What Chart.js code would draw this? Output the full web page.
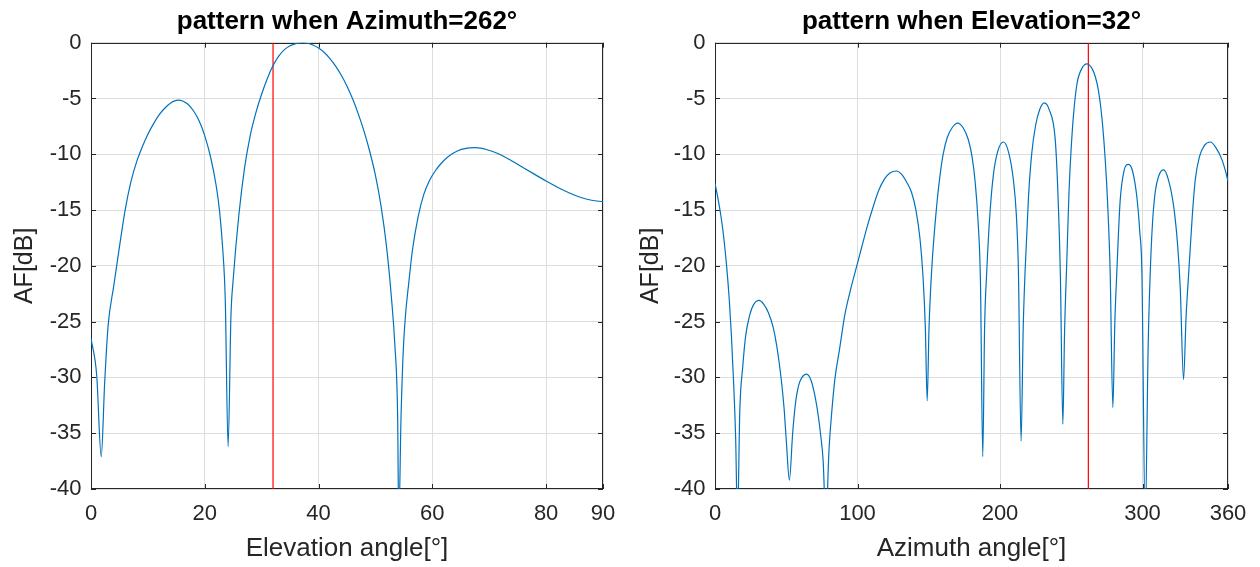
<!DOCTYPE html>
<html>
<head>
<meta charset="utf-8">
<script src="https://cdn.jsdelivr.net/npm/chart.js@4.4.1/dist/chart.umd.min.js"></script>
<style>
  html, body { margin: 0; padding: 0; background: #fff; }
  #wrap { position: relative; width: 1260px; height: 567px; }
  canvas { position: absolute; top: 0; }
</style>
</head>
<body>
<div id="wrap">
  <canvas id="elevChart" width="630" height="567" style="left:0"></canvas>
  <canvas id="azChart" width="630" height="567" style="left:630px"></canvas>
</div>
<script>
///// ARRAY FACTOR CUTS /////

Chart.defaults.font.family = "'Liberation Sans', Arial, Helvetica, sans-serif";
Chart.defaults.color = '#262626';

// Elevation cut (azimuth = 262)
const elevAngles = [0, 1, 1.8, 2.4, 3, 4, 5, 6, 7, 8, 9, 10, 11, 12, 13, 14, 15, 15.4, 16, 17, 18, 19, 20, 21, 22,
    22.6, 23.2, 23.6, 24.1, 24.6, 25, 26, 27, 28, 29, 30, 31, 32, 33, 34, 35, 36, 37, 37.3, 38, 39, 40,
    41, 42, 43, 44, 45, 46, 47, 48, 49, 50, 51, 52, 52.8, 53.4, 53.9, 54.1, 54.5, 54.9, 55.3, 55.8,
    56.5, 57.5, 58.5, 59.5, 60.5, 61.5, 62.5, 63.5, 64.5, 65.5, 66.5, 67.5, 68.5, 69.5, 70.5, 72,
    74, 76, 78, 80, 82, 84, 86, 88, 90];
const elevAF = [-26.5, -29.8, -37.1, -30.5, -25.4, -21.8, -18.3, -15.0, -12.5, -10.7, -9.35, -8.2, -7.25, -6.45,
    -5.85, -5.4, -5.17, -5.15, -5.2, -5.5, -6.1, -7.0, -8.35, -10.2, -12.8,
    -15.1, -18.8, -23, -36.2, -24.5, -21.2, -15.4, -11.2, -8.3, -6.25, -4.6, -3.2, -2.05, -1.2, -0.62, -0.27, -0.08, -0.01, 0, -0.05, -0.2, -0.48,
    -0.88, -1.42, -2.1, -2.92, -3.9, -5.05, -6.4, -7.95, -9.75, -11.9, -14.7, -18.5, -22.8, -27, -33.5, -43, -33.5, -27.5, -24.3, -21.8,
    -18.6, -15.6, -13.6, -12.35, -11.5, -10.85, -10.33, -9.95, -9.69, -9.52, -9.43, -9.4, -9.45, -9.57, -9.73, -10.05,
    -10.6, -11.2, -11.8, -12.4, -12.95, -13.45, -13.85, -14.12, -14.25];

// Azimuth cut (elevation = 32)
const azAngles = [0, 2, 4, 6, 8, 10, 11.5, 13, 14.5, 15.8, 17.4, 19.5, 21.5, 24, 27, 30.9, 34, 37.5,
    40.8, 43.5, 46.6, 48.5, 50.2, 52.2, 54.5, 56.5, 58.5, 61, 64.2, 67.5, 71.2, 74, 75.9, 77.8, 80,
    82, 84.1, 87.6, 91.1, 95, 99.3, 103, 107, 111, 115, 119, 123, 127.4, 131, 134.5, 137.9, 141,
    143.8, 146, 147.6, 148.9, 150.2, 152, 155.5, 158, 160.1, 163, 166.5, 170.3, 174, 177.8, 180.5,
    182.5, 184.5, 186.3, 187.9, 189.2, 190.7, 193, 195.4, 198.5, 202.4, 206, 209.4, 211.5, 212.9,
    214.8, 216.3, 217.6, 220, 222.3, 225, 228, 231, 234.5, 238.7, 240.5, 242.4, 244.1, 245.3, 246.9,
    248.4, 249.8, 251.5, 254, 257.5, 261, 264.5, 267, 269.1, 271.5, 273.8, 275.5, 277.3, 279.2, 280.6,
    282, 284.3, 287, 290.2, 293, 296.1, 298, 299.6, 301.9, 304, 305.4, 307, 308.9, 311.5, 314.8, 318,
    321.8, 324.5, 326.5, 328.8, 330.6, 332.4, 335, 337.1, 340, 343.5, 347.6, 351.5, 355.8, 358, 360];
const azAF = [-12.6, -13.9, -15.4, -17.3, -19.8, -23.0, -26.2, -30.3, -35.5, -43, -33, -29, -26.3, -24.6, -23.5, -23.1, -23.4, -24.2,
    -25.5, -27.3, -30.3, -32.8, -36, -39.2, -35, -32.3, -30.8, -30.0, -29.7, -30.3, -32.4, -35, -37.5, -43, -36.5,
    -33, -30.2, -27.3, -24.4, -22.2, -20.1, -18.3, -16.4, -14.7, -13.2, -12.2, -11.65, -11.5, -11.8, -12.5, -13.4, -15,
    -17.5, -21, -25.5, -32.1, -25.5, -20.5, -14.7, -11.8, -10.0, -8.5, -7.6, -7.2, -7.6, -8.7, -10.3,
    -12.4, -15.8, -21.5, -37.1, -25.5, -20.5, -15.2, -11.8, -9.7, -8.9, -9.8, -12.3, -15.5, -20.3,
    -35.7, -25.5, -20.5, -13.8, -9.9, -7.4, -5.95, -5.4, -6.0, -8.6, -13, -21, -34.2, -26, -19.5,
    -13.5, -9.8, -6.6, -3.7, -2.3, -1.9, -2.3, -3.1, -4.3, -6.7, -10.4, -14.3, -20.5, -32.7, -25,
    -20.5, -14.2, -11.5, -10.9, -11.5, -13.9, -16.8, -20.7, -43, -27, -20.7, -16.2, -13.4, -11.9, -11.4, -12.2,
    -14.6, -17.9, -22, -30.2, -24.5, -20.7, -15.4, -12.2, -10.2, -9.2, -8.9, -9.4, -10.5, -11.4, -12.4];

// steering markers (red lines) and ticks
const elevCut = 32;
const azCut = 262;
const cutSpan = [-40, 0];
const elevTicks = [0, 20, 40, 60, 80, 90];
const azTicks = [0, 100, 200, 300, 360];
const afTicks = [-40, -35, -30, -25, -20, -15, -10, -5, 0];

const toPoints = (xs, ys) => xs.map((v, i) => ({ x: v, y: ys[i] }));

// box round the axes + inward tick marks, like matlab
const matlabBox = {
    id: 'matlabBox',
    beforeDatasetsDraw(chart) {
        const { ctx, chartArea: a, scales: { x, y } } = chart;
        ctx.save();
        ctx.strokeStyle = '#262626';
        ctx.lineWidth = 1;
        ctx.beginPath();
        x.ticks.forEach(t => {
            const px = Math.round(x.getPixelForValue(t.value)) + 0.5;
            ctx.moveTo(px, a.bottom); ctx.lineTo(px, a.bottom - 5);
            ctx.moveTo(px, a.top); ctx.lineTo(px, a.top + 5);
        });
        y.ticks.forEach(t => {
            const py = Math.round(y.getPixelForValue(t.value)) + 0.5;
            ctx.moveTo(a.left, py); ctx.lineTo(a.left + 5, py);
            ctx.moveTo(a.right, py); ctx.lineTo(a.right - 5, py);
        });
        ctx.stroke();
        ctx.strokeRect(Math.round(a.left) + 0.5, Math.round(a.top) + 0.5,
            Math.round(a.width) - 1, Math.round(a.height) - 1);
        ctx.restore();
    }
};

function patternChart(id, cfg) {
    return new Chart(document.getElementById(id), {
        type: 'line',
        data: {
            datasets: [{
                data: toPoints(cfg.angles, cfg.af),
                borderColor: '#0072BD',
                borderWidth: 1.2,
                pointRadius: 0,
                cubicInterpolationMode: 'monotone'
            }, {
                data: toPoints([cfg.cut, cfg.cut], cutSpan),
                borderColor: '#FF0000',
                borderWidth: 1.2,
                pointRadius: 0
            }]
        },
        options: {
            responsive: false,
            animation: false,
            devicePixelRatio: 1,
            layout: { padding: { top: 0, left: 0, right: cfg.rightPad, bottom: 0 } },
            plugins: {
                legend: { display: false },
                tooltip: { enabled: false },
                title: {
                    display: true,
                    text: cfg.title,
                    fullSize: false,
                    color: '#000',
                    font: { size: 26, weight: 'bold' },
                    padding: { top: 6, bottom: 5.5 }
                }
            },
            scales: {
                x: {
                    type: 'linear',
                    min: cfg.ticks[0],
                    max: cfg.ticks[cfg.ticks.length - 1],
                    afterBuildTicks: s => { s.ticks = cfg.ticks.map(v => ({ value: v })); },
                    afterFit: s => { s.height = 78; },
                    grid: { color: '#dedede', drawTicks: false },
                    border: { display: false },
                    ticks: { padding: 12, font: { size: 22 }, maxRotation: 0, autoSkip: false, callback: v => String(v) },
                    title: { display: true, text: cfg.xTitle, font: { size: 26 }, padding: { top: 0, bottom: 3 } }
                },
                y: {
                    min: -40,
                    max: 0,
                    afterBuildTicks: s => { s.ticks = afTicks.map(v => ({ value: v })); },
                    afterFit: s => { s.width = cfg.axisWidth; },
                    grid: { color: '#dedede', drawTicks: false },
                    border: { display: false },
                    ticks: { padding: 9.5, font: { size: 22 }, callback: v => String(v) },
                    title: { display: true, text: 'AF[dB]', font: { size: 25 }, padding: { top: cfg.yTitlePad, bottom: 0 } }
                }
            }
        },
        plugins: [matlabBox]
    });
}

const elevChart = patternChart('elevChart', {
    angles: elevAngles, af: elevAF, cut: elevCut, ticks: elevTicks,
    title: 'pattern when Azimuth=262°', xTitle: 'Elevation angle[°]',
    axisWidth: 91, rightPad: 27, yTitlePad: 10
});

const azChart = patternChart('azChart', {
    angles: azAngles, af: azAF, cut: azCut, ticks: azTicks,
    title: 'pattern when Elevation=32°', xTitle: 'Azimuth angle[°]',
    axisWidth: 85, rightPad: 32, yTitlePad: 6
});
</script>
</body>
</html>
